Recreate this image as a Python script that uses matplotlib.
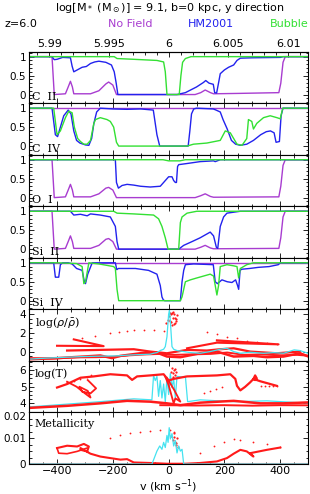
import matplotlib
matplotlib.use('Agg')
import matplotlib.pyplot as plt
from matplotlib.ticker import MultipleLocator, FixedLocator, FixedFormatter

# --- absorption spectra: velocity (km/s) / normalised flux ---
cii_nf_v = [-500, -418, -410, -370, -360, -352, -345, -340, -280, -250, -225, -215, -200, -187, 95, 115, 131, 150, 161, 250, 395, 402, 410, 418, 500]
cii_nf_f = [1, 1, 0, 0.02, 0.2, 0.35, 0.2, 0.02, 0.02, 0.1, 0.28, 0.33, 0.25, 0.0, 0.0, 0.05, 0.12, 0.05, 0.02, 0.03, 0.05, 0.3, 0.85, 1, 1]
cii_hm_v = [-500, -418, -410, -400, -380, -352, -346, -340, -325, -310, -295, -280, -265, -250, -225, -205, -195, -188, -182, 30, 60, 100, 125, 133, 145, 160, 165, 172, 180, 185, 200, 215, 233, 245, 257, 300, 400, 412, 500]
cii_hm_f = [1, 1, 0.92, 0.93, 0.98, 0.97, 0.75, 0.6, 0.66, 0.72, 0.74, 0.82, 0.86, 0.88, 0.85, 0.78, 0.6, 0.3, 0, 0, 0.05, 0.2, 0.32, 0.37, 0.3, 0.27, 0.05, 0.04, 0.35, 0.55, 0.65, 0.72, 0.78, 0.9, 0.96, 0.97, 0.98, 1, 1]
cii_bb_v = [-500, -195, -185, -125, -42, -18, -12, -6, 38, 44, 50, 60, 80, 500]
cii_bb_f = [1, 1, 0.95, 0.93, 0.9, 0.86, 0.6, 0, 0, 0.5, 0.85, 0.95, 1, 1]

civ_nf_v = [-500, 500]
civ_nf_f = [1, 1]
civ_hm_v = [-500, -418, -406, -398, -388, -376, -360, -350, -340, -330, -318, -298, -286, -276, -268, -258, -245, -200, -150, -100, -55, -50, -42, -32, 70, 76, 82, 90, 100, 160, 170, 185, 195, 210, 225, 240, 257, 280, 304, 330, 350, 365, 378, 385, 397, 403, 410, 500]
civ_hm_f = [1, 1, 0.3, 0.25, 0.5, 0.8, 0.95, 0.85, 0.4, 0.15, 0.08, 0.03, 0.02, 0.2, 0.6, 0.9, 1, 0.98, 0.97, 0.98, 0.95, 0.7, 0.3, 0, 0, 0.4, 0.85, 0.98, 1, 0.98, 0.95, 0.9, 0.7, 0.45, 0.15, 0.05, 0.02, 0.05, 0.15, 0.3, 0.38, 0.4, 0.35, 0.1, 0.12, 0.8, 1, 1]
civ_bb_v = [-500, -412, -400, -388, -370, -358, -346, -338, -326, -316, -304, -292, -280, -268, -262, -245, -221, -209, -197, -187, -179, 66, 89, 137, 185, 203, 221, 245, 263, 280, 286, 298, 304, 316, 340, 364, 388, 400, 409, 500]
civ_bb_f = [1, 1, 0.3, 0.4, 0.75, 0.92, 0.88, 0.5, 0.2, 0.12, 0.05, 0.05, 0.15, 0.6, 0.7, 0.75, 0.7, 0.65, 0.5, 0.1, 0, 0, 0.05, 0.08, 0.15, 0.4, 0.35, 0.05, 0.02, 0.2, 0.7, 0.65, 0.45, 0.6, 0.75, 0.8, 0.75, 0.72, 1, 1]

oi_nf_v = [-500, -418, -410, -370, -360, -352, -345, -340, -280, -250, -225, -215, -200, -187, 95, 115, 131, 150, 161, 395, 402, 410, 418, 500]
oi_nf_f = [1, 1, 0, 0.02, 0.2, 0.35, 0.2, 0.02, 0.02, 0.1, 0.25, 0.27, 0.2, 0.0, 0.0, 0.05, 0.1, 0.03, 0.01, 0.02, 0.3, 0.85, 1, 1]
oi_hm_v = [-500, -191, -187, -180, -167, -149, -125, -101, -66, -30, -12, 0, 12, 18, 24, 28, 32, 36, 66, 113, 161, 167, 185, 500]
oi_hm_f = [1, 1, 0.4, 0.25, 0.32, 0.35, 0.33, 0.3, 0.28, 0.3, 0.45, 0.55, 0.55, 0.45, 0.4, 0.4, 0.82, 0.87, 0.9, 0.95, 0.97, 0.95, 1, 1]
oi_bb_v = [-500, -20, 0, 40, 60, 500]
oi_bb_f = [1, 1, 0.97, 0.97, 1, 1]

sii_nf_v = [-500, -418, -410, -370, -360, -352, -345, -340, -280, -250, -225, -215, -200, -187, 95, 115, 131, 150, 161, 395, 402, 410, 418, 500]
sii_nf_f = [1, 1, 0, 0.02, 0.2, 0.35, 0.2, 0.02, 0.02, 0.1, 0.26, 0.28, 0.2, 0.0, 0.0, 0.05, 0.1, 0.03, 0.01, 0.02, 0.3, 0.85, 1, 1]
sii_hm_v = [-500, -352, -340, -316, -292, -280, -245, -209, -191, -185, -179, 36, 54, 84, 113, 125, 137, 149, 161, 171, 176, 185, 197, 209, 257, 500]
sii_hm_f = [1, 1, 0.9, 0.92, 0.88, 0.93, 0.9, 0.85, 0.6, 0.2, 0, 0, 0.1, 0.2, 0.3, 0.35, 0.4, 0.45, 0.35, 0.05, 0.02, 0.6, 0.85, 0.95, 1, 1]
sii_bb_v = [-500, -197, -185, -125, -54, -36, -24, -12, -2, 36, 42, 48, 66, 101, 500]
sii_bb_f = [1, 1, 0.95, 0.93, 0.9, 0.8, 0.6, 0.3, 0, 0, 0.7, 0.85, 0.95, 1, 1]

siiv_nf_v = [-500, 500]
siiv_nf_f = [1, 1]
siiv_hm_v = [-500, -412, -406, -394, -388, -380, -360, -346, -330, -310, -302, -298, -290, -274, -191, -186, -180, -150, -119, -72, -42, -30, -24, -19, -14, 42, 48, 54, 60, 90, 160, 167, 175, 191, 210, 227, 240, 247, 251, 256, 262, 290, 322, 360, 393, 400, 500]
siiv_hm_f = [1, 1, 0.62, 0.62, 0.95, 1, 1, 0.97, 0.85, 0.8, 0.5, 0.45, 0.7, 1, 1, 0.82, 0.85, 0.85, 0.85, 0.8, 0.7, 0.4, 0.1, 0.02, 0, 0, 0.5, 0.8, 0.95, 0.97, 0.95, 0.5, 0.45, 0.55, 0.5, 0.48, 0.55, 0.4, 0.3, 0.8, 0.83, 0.85, 0.88, 0.9, 0.95, 1, 1]
siiv_bb_v = [-500, -400, -330, -310, -304, -298, -286, -250, -197, -191, -185, -179, 42, 48, 60, 78, 101, 125, 149, 161, 167, 173, 179, 185, 209, 233, 245, 251, 257, 280, 304, 500]
siiv_bb_f = [1, 1, 0.98, 0.9, 0.45, 0.5, 1, 0.97, 0.9, 0.85, 0.3, 0, 0, 0.1, 0.5, 0.55, 0.6, 0.65, 0.7, 0.65, 0.4, 0.15, 0.4, 0.9, 0.95, 0.92, 0.9, 0.6, 0.85, 0.95, 1, 1]

# --- gas along the sightline: log density ---
rho_cy_v = [-500, -440, -364, -304, -245, -185, -149, -125, -66, -54, -42, -30, -18, -12, -6, 0, 3, 6, 9, 12, 18, 30, 54, 78, 113, 149, 185, 209, 221, 233, 257, 292, 340, 376, 412, 450, 470, 500]
rho_cy = [-0.81, -0.7, -0.6, -0.53, -0.49, -0.46, -0.39, -0.35, -0.28, -0.18, -0.11, 0.11, 0.25, 0.53, 1.58, 4.0, 4.4, 3.3, 1.9, 0.53, 0.25, 0.11, 0.0, -0.11, -0.18, 0.0, 0.25, 0.35, 0.18, 0.0, -0.18, -0.07, -0.18, -0.11, -0.18, 0.18, 0.11, -0.18]
rho_band1_v = [-495, -400, -304, -245, -203, -173, -101, -42, -6, 42, 113, 173, 233, 304, 352, 412, 471, 507]
rho_band1 = [-0.81, -0.7, -0.53, -0.42, -0.7, -0.46, -0.18, -0.11, -0.53, -0.6, -0.18, 0.0, -0.53, -0.46, -0.6, -0.53, -0.18, -0.6]
rho_band2_v = [-364, -245, -125, -66, -6, 66, 137, 185, 233, 292, 388, 471]
rho_band2 = [0.11, 0.18, 0.25, 0.0, -0.18, 0.18, 0.11, 0.25, 0.35, 0.0, -0.18, 0.0]
rho_band3_v = [-495, -420, -330, -260, -200, -140, -80, -30, 20, 80, 150, 210, 270, 330, 400, 460, 507]
rho_band3 = [-0.7, -0.75, -0.62, -0.6, -0.55, -0.4, -0.3, -0.25, -0.35, -0.3, -0.25, -0.1, -0.35, -0.3, -0.4, -0.35, -0.45]
rho_wedge_l_v = [-400, -233, -340]
rho_wedge_l = [0.62, 0.58, 1.3]
rho_wedge_r_v = [66, 173, 394, 173]
rho_wedge_r = [0.35, 0.95, 0.77, 1.2]
rho_dots_v = [-310, -263, -209, -179, -149, -125, -89, -54, -18, 137, 173, 209, 245, 280, 316, 352, 388]
rho_dots = [1.4, 1.65, 1.93, 2.1, 2.2, 2.28, 2.28, 2.28, 2.2, 2.1, 1.86, 1.58, 1.4, 1.16, 0.98, 0.88, 0.8]
rho_clump_v = [-8, -4, 0, 4, 8, 12, 16, 20, 24, 28, 10, 14, 18, 22, 26, 30, 6, 12]
rho_clump = [3.0, 3.4, 3.8, 4.1, 4.0, 4.1, 4.2, 4.0, 3.6, 3.3, 3.2, 3.6, 2.9, 3.0, 3.5, 3.9, 3.3, 2.8]

# --- log temperature ---
t_upper_v = [-400, -364, -316, -268, -209, -149, -131, -113, -66, -18, 0, 18, 66, 173, 221, 239, 245, 257, 274, 292, 304, 310, 316, 310, 304, 328, 388]
t_upper = [4.95, 5.16, 5.54, 5.62, 5.75, 5.68, 5.41, 5.62, 5.68, 5.75, 5.37, 5.47, 5.62, 5.68, 5.75, 5.47, 5.05, 4.78, 4.99, 5.26, 5.47, 5.68, 5.5, 5.4, 5.47, 5.33, 5.05]
t_loop_v = [-364, -330, -300, -280, -290, -320, -310, -280, -260, -290]
t_loop = [5.3, 5.0, 4.6, 4.35, 4.75, 5.0, 4.7, 4.6, 4.9, 5.4]
t_center_v = [-12, 0, 18, 24, 42, 20, -5]
t_center = [5.6, 5.1, 4.0, 4.3, 4.1, 4.8, 5.5]
t_band_v = [-495, -364, -245, -149, -66, -6, 42, 113, 233, 328, 412, 507]
t_band = [3.73, 3.85, 4.0, 4.15, 4.1, 4.0, 3.89, 4.04, 4.15, 4.0, 4.0, 4.06]
t_band2_v = [-30, 100, 200, 300, 400, 507]
t_band2 = [3.89, 3.87, 3.89, 3.86, 3.89, 3.88]
t_dots_v = [-364, -340, -316, -292, -280, 125, 150, 170, 190, 330, 345, 360, 375, 390]
t_dots = [5.26, 5.35, 5.45, 5.6, 5.7, 4.63, 4.75, 4.85, 5.0, 5.05, 5.05, 5.06, 5.05, 5.06]
t_clump_v = [8, 12, 16, 20, 24, 28, 14, 22]
t_clump = [5.9, 6.1, 5.8, 6.0, 5.7, 5.9, 5.6, 6.05]
t_cy_v = [-495, -245, -125, -60, -54, -48, -42, -36, -30, -24, -18, -12, -6, 0, 6, 12, 18, 24, 30, 48, 60, 68, 113, 233, 352, 507]
t_cy = [3.79, 4.1, 4.27, 4.21, 5.68, 5.37, 5.62, 4.42, 5.37, 4.32, 5.16, 4.1, 5.58, 4.53, 5.79, 4.95, 5.47, 4.32, 5.62, 5.58, 5.62, 4.1, 4.21, 4.1, 4.15, 4.0]

# --- metallicity ---
met_cy_v = [-500, -60, -54, -42, -32, -24, -18, -12, -6, -2, 2, 6, 12, 18, 24, 30, 36, 42, 48, 54, 500]
met_cy = [0, 0, 0.0016, 0.005, 0.007, 0.0057, 0.0084, 0.0064, 0.0111, 0.0084, 0.0141, 0.0097, 0.0118, 0.007, 0.0091, 0.0043, 0.007, 0.005, 0.0057, 0, 0]
met_loop_v = [-400, -364, -328, -304, -286, -292, -316, -316, -280, -245, -209, -173, -149, -125, -66, -6, 60, 113, 173, 209, 233, 257, 280, 304, 292, 352, 400]
met_loop = [0.0062, 0.0071, 0.0068, 0.0078, 0.0068, 0.0049, 0.0055, 0.0062, 0.004, 0.0029, 0.0023, 0.0017, 0.0019, 0.0006, 0.0004, 0.0001, 0.0001, 0.0004, 0.001, 0.0023, 0.004, 0.0055, 0.0049, 0.0029, 0.0042, 0.0055, 0.0064]
met_loop2_v = [-400, -394, -364, -328, -292]
met_loop2 = [0.0062, 0.0042, 0.004, 0.0049, 0.0062]
met_dots_v = [-209, -173, -137, -101, -66, -30, 6, 18, 113, 161, 197, 233, 257, 304, 352, 400]
met_dots = [0.01, 0.0113, 0.0119, 0.0126, 0.013, 0.0132, 0.0132, 0.0126, 0.0042, 0.0068, 0.0087, 0.0096, 0.0094, 0.0087, 0.0078, 0.0065]
met_clump_v = [10, 14, 18, 22, 26, 30, 34, 20, 28]
met_clump = [0.011, 0.0095, 0.012, 0.0085, 0.0075, 0.01, 0.0065, 0.0105, 0.008]
met_floor_v = [-500, 500]
met_floor = [0, 0]

PURPLE = '#a83cd0'
BLUE = '#2222ee'
GREEN = '#33e033'
CYAN = '#44e2f0'
RED = '#ff1a1a'
C_KMS = 299792.458

plt.rcParams['font.size'] = 8
plt.rcParams['xtick.direction'] = 'in'
plt.rcParams['ytick.direction'] = 'in'

fig, axes = plt.subplots(8, 1, sharex=True, figsize=(3.1, 4.94), dpi=100,
                         gridspec_kw=dict(hspace=0, left=0.094, right=0.994, top=0.8953, bottom=0.0607))

spectra = [
    ('C  II', cii_nf_v, cii_nf_f, cii_hm_v, cii_hm_f, cii_bb_v, cii_bb_f),
    ('C  IV', civ_nf_v, civ_nf_f, civ_hm_v, civ_hm_f, civ_bb_v, civ_bb_f),
    ('O  I', oi_nf_v, oi_nf_f, oi_hm_v, oi_hm_f, oi_bb_v, oi_bb_f),
    ('Si  II', sii_nf_v, sii_nf_f, sii_hm_v, sii_hm_f, sii_bb_v, sii_bb_f),
    ('Si  IV', siiv_nf_v, siiv_nf_f, siiv_hm_v, siiv_hm_f, siiv_bb_v, siiv_bb_f),
]
for ax, (lab, nv, nf, hv, hf, bv, bf) in zip(axes[:5], spectra):
    ax.plot(nv, nf, color=PURPLE, lw=1.0)
    ax.plot(hv, hf, color=BLUE, lw=1.0)
    ax.plot(bv, bf, color=GREEN, lw=1.0)
    ax.set_ylim(-0.23, 1.13)
    ax.set_yticks([0, 0.5, 1])
    ax.set_yticklabels(['0', '0.5', '1'])
    ax.yaxis.set_minor_locator(MultipleLocator(0.1))
    ax.text(0.012, 0.12, lab, transform=ax.transAxes, ha='left', va='center',
            family='DejaVu Serif', fontsize=8)

# density
ax = axes[5]
ax.plot(rho_band3_v, rho_band3, color=RED, lw=1.4)
ax.plot(rho_band1_v, rho_band1, color=RED, lw=1.8)
ax.plot(rho_band2_v, rho_band2, color=RED, lw=1.6)
ax.plot(rho_wedge_l_v, rho_wedge_l, color=RED, lw=1.5)
ax.plot(rho_wedge_r_v, rho_wedge_r, color=RED, lw=1.5)
ax.plot(rho_dots_v, rho_dots, 'o', color=RED, ms=1.3, mew=0)
ax.plot(rho_clump_v, rho_clump, 'o', color=RED, ms=1.6, mew=0)
ax.plot(rho_cy_v, rho_cy, color=CYAN, lw=0.9)
ax.set_ylim(-1, 4.5)
ax.set_yticks([0, 2, 4])
ax.yaxis.set_minor_locator(MultipleLocator(0.5))
ax.text(0.02, 0.75, r'log($\rho/\bar{\rho}$)', transform=ax.transAxes, ha='left', va='center',
        family='DejaVu Serif', fontsize=8)

# temperature
ax = axes[6]
ax.plot(t_cy_v, t_cy, color=CYAN, lw=0.9)
ax.plot(t_upper_v, t_upper, color=RED, lw=1.6)
ax.plot(t_loop_v, t_loop, color=RED, lw=1.3)
ax.plot(t_center_v, t_center, color=RED, lw=1.3)
ax.plot(t_band_v, t_band, color=RED, lw=1.8)
ax.plot(t_band2_v, t_band2, color=RED, lw=1.4)
ax.plot(t_dots_v, t_dots, 'o', color=RED, ms=1.3, mew=0)
ax.plot(t_clump_v, t_clump, 'o', color=RED, ms=1.6, mew=0)
ax.set_ylim(3.45, 6.55)
ax.set_yticks([4, 5, 6])
ax.yaxis.set_minor_locator(MultipleLocator(0.25))
ax.text(0.02, 0.76, 'log(T)', transform=ax.transAxes, ha='left', va='center',
        family='DejaVu Serif', fontsize=8)

# metallicity
ax = axes[7]
ax.plot(met_floor_v, met_floor, color=RED, lw=1.5, alpha=0.6)
ax.plot(met_loop_v, met_loop, color=RED, lw=1.5)
ax.plot(met_loop2_v, met_loop2, color=RED, lw=1.2)
ax.plot(met_dots_v, met_dots, 'o', color=RED, ms=1.3, mew=0)
ax.plot(met_clump_v, met_clump, 'o', color=RED, ms=1.6, mew=0)
ax.plot(met_cy_v, met_cy, color=CYAN, lw=0.9)
ax.set_ylim(0, 0.02)
ax.set_yticks([0, 0.01, 0.02])
ax.set_yticklabels(['0', '0.01', '0.02'])
ax.yaxis.set_minor_locator(MultipleLocator(0.0025))
ax.text(0.02, 0.77, 'Metallicity', transform=ax.transAxes, ha='left', va='center',
        family='DejaVu Serif', fontsize=8)

for i, ax in enumerate(axes):
    ax.set_xlim(-500, 500)
    ax.xaxis.set_major_locator(MultipleLocator(200))
    ax.xaxis.set_minor_locator(MultipleLocator(50))
    ax.tick_params(which='both', top=(i > 0), right=True, width=0.6)
    ax.tick_params(which='major', length=3.5, labelsize=7.5, pad=2)
    ax.tick_params(which='minor', length=1.8)
    for s in ax.spines.values():
        s.set_linewidth(0.8)
axes[-1].set_xticks([-400, -200, 0, 200, 400])
axes[-1].tick_params(axis='x', pad=1.5, labelsize=8)
# keep the top label of the metallicity panel clear of the log(T) "4"
axes[-1].get_yticklabels()[-1].set_va('top')
fig.text(0.544, 0.016, r'v (km s$^{-1}$)', ha='center', va='center', fontsize=8)

# redshift axis on top
sec = axes[0].secondary_xaxis('top', functions=(lambda v: 6 + 7 * v / C_KMS,
                                                lambda z: (z - 6) * C_KMS / 7))
sec.xaxis.set_major_locator(FixedLocator([5.99, 5.995, 6.0, 6.005, 6.01]))
sec.xaxis.set_major_formatter(FixedFormatter(['5.99', '5.995', '6', '6.005', '6.01']))
sec.xaxis.set_minor_locator(MultipleLocator(0.001))
sec.tick_params(which='both', direction='in', width=0.6, labelsize=8, pad=2)
sec.tick_params(which='major', length=3.5)
sec.tick_params(which='minor', length=1.8)

fig.text(0.548, 0.984, r'log[M$_*$ (M$_\odot$)] = 9.1, b=0 kpc, y direction',
         ha='center', va='center', fontsize=8)
fig.text(0.016, 0.951, 'z=6.0', ha='left', va='center', fontsize=8)
fig.text(0.42, 0.951, 'No Field', ha='center', va='center', fontsize=8, color=PURPLE)
fig.text(0.68, 0.951, 'HM2001', ha='center', va='center', fontsize=8, color=BLUE)
fig.text(0.932, 0.951, 'Bubble', ha='center', va='center', fontsize=8, color=GREEN)

fig.savefig('out.png', dpi=100)
